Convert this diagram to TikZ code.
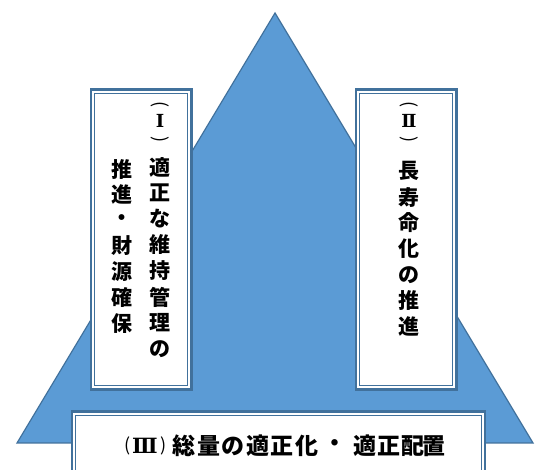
\documentclass[tikz,border=0pt]{standalone}
\usepackage{fontspec}
\newfontfamily\jp{Noto Sans CJK JP}
\newfontfamily\romnum{DejaVu Serif}
\definecolor{triblue}{RGB}{91,155,213}
\definecolor{edgeblue}{RGB}{65,113,156}
\begin{document}
\begin{tikzpicture}[x=1pt,y=-1pt,
  panel/.style={draw=edgeblue, line width=2.3pt, fill=white, inner sep=0pt, outer sep=0pt},
  innerline/.style={draw=edgeblue, line width=1.1pt},
  vch/.style={font=\jp\bfseries\fontsize{21}{21}\selectfont, inner sep=0pt, anchor=center},
  hch/.style={font=\jp\bfseries\fontsize{23}{23}\selectfont, inner sep=0pt, anchor=center},
  numv/.style={font=\romnum\bfseries\fontsize{18}{18}\selectfont, inner sep=0pt, anchor=center},
  numh/.style={font=\romnum\bfseries\fontsize{21}{21}\selectfont, inner sep=0pt, anchor=center},
  par/.style={font=\jp\fontsize{18}{18}\selectfont, inner sep=0pt, anchor=center},
  vpar/.style={par, rotate=-90}
]
\useasboundingbox (0,0) rectangle (536,470);
\clip (0,0) rectangle (536,470);
\fill[white] (0,0) rectangle (536,470);
% triangle
\draw[fill=triblue, draw=edgeblue, line width=1.2pt, line join=miter] (275,13) -- (533,443) -- (17,443) -- cycle;
% boxes
\node[panel, minimum width=100.4pt, minimum height=300.1pt] (boxI) at (141.35,239.5) {};
\draw[innerline] ([shift={(3.75,3.75)}]boxI.north west) rectangle ([shift={(-3.75,-3.75)}]boxI.south east);
\node[panel, minimum width=100.4pt, minimum height=300.1pt] (boxII) at (406.35,239.5) {};
\draw[innerline] ([shift={(3.75,3.75)}]boxII.north west) rectangle ([shift={(-3.75,-3.75)}]boxII.south east);
\node[panel, minimum width=412.7pt, minimum height=120pt, anchor=north west] (boxIII) at (72.15,411.65) {};
\draw[innerline] ([shift={(3.75,3.75)}]boxIII.north west) rectangle ([shift={(-3.75,-3.75)}]boxIII.south east);
% box I text
\node[vpar] (aopen) at (160,105) {(};
\node[numv] (anum) at (160,121) {Ⅰ};
\node[vpar] (aclose) at (160,140) {)};
\foreach \c/\yy [count=\i] in {適/167,正/193,な/219,維/245,持/271,管/297,理/323,の/349}
  \node[vch] (a\i) at (160,\yy) {\c};
\foreach \c/\yy [count=\i] in {推/169,進/194.7,・/220.4,財/246,源/271.8,確/297.5,保/323.2}
  \node[vch] (b\i) at (122,\yy) {\c};
% box II text
\node[vpar] (copen) at (409,105) {(};
\node[numv] (cnum) at (409,121) {Ⅱ};
\node[vpar] (cclose) at (409,140) {)};
\foreach \c/\yy [count=\i] in {長/171,寿/197,命/223,化/249,の/275,推/300,進/326}
  \node[vch] (c\i) at (409,\yy) {\c};
% box III text
\node[par] (dopen) at (128,446) {(};
\node[numh] (dnum) at (145,446) {Ⅲ};
\node[par] (dclose) at (164,446) {)};
\foreach \c/\xx [count=\i] in {総/184,量/208.5,の/233,適/257.5,正/282,化/307,・/335,適/365,正/389,配/412.5,置/434}
  \node[hch] (d\i) at (\xx,446) {\c};
\end{tikzpicture}
\end{document}
